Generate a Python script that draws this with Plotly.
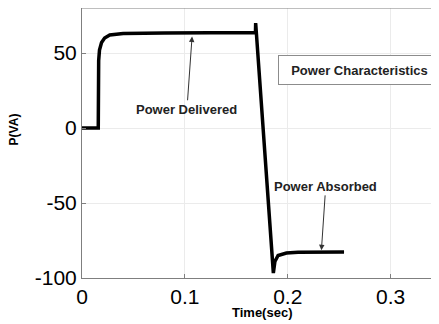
import plotly.graph_objects as go

# Data
time_s = [0.0, 0.0158, 0.0162, 0.017, 0.019, 0.022, 0.027, 0.04, 0.08, 0.12, 0.1686,
          0.1688, 0.186, 0.1875, 0.1906, 0.1987, 0.21, 0.2547]
power_va = [0.0, 0.0, 45.0, 52.0, 57.0, 60.0, 62.0, 63.0, 63.3, 63.5, 63.6,
            70.0, -96.7, -89.0, -85.0, -83.4, -82.8, -82.7]

x_ticks = [0, 0.1, 0.2, 0.3]
x_tick_labels = ["0", "0.1", "0.2", "0.3"]
y_ticks = [-100, -50, 0, 50]
y_tick_labels = ["-100", "-50", "0", "50"]

FONT = "Liberation Sans, Arial, sans-serif"
AXIS_GRAY = "#7f7f7f"

fig = go.Figure()

fig.add_trace(go.Scatter(
    x=time_s,
    y=power_va,
    mode="lines",
    line=dict(color="black", width=3.5),
    showlegend=False,
))

annotations = [
    # arrow labels
    dict(x=0.107, y=61, xref="x", yref="y",
         ax=0.102, ay=12.5, axref="x", ayref="y",
         text="Power Delivered", showarrow=True,
         arrowhead=2, arrowsize=1.1, arrowwidth=1, arrowcolor="#333333",
         font=dict(family=FONT, size=13, color="#222222", weight="bold")),
    dict(x=0.2327, y=-81.5, xref="x", yref="y",
         ax=0.2369, ay=-38.9, axref="x", ayref="y",
         text="Power Absorbed", showarrow=True,
         arrowhead=2, arrowsize=1.1, arrowwidth=1, arrowcolor="#333333",
         font=dict(family=FONT, size=13, color="#222222", weight="bold")),
    # boxed title
    dict(x=0.2697, y=38.5, xref="x", yref="y",
         text="Power Characteristics", showarrow=False,
         width=155, height=22, borderpad=3,
         bordercolor="#8c8c8c", borderwidth=1, bgcolor="white",
         font=dict(family=FONT, size=13, color="#222222", weight="bold")),
    # axis titles
    dict(x=-0.188, y=0.55, xref="paper", yref="paper",
         text="P(VA)", textangle=-90, showarrow=False,
         xanchor="center", yanchor="middle",
         font=dict(family=FONT, size=12, color="black", weight="bold")),
    dict(x=0.504, y=-0.126, xref="paper", yref="paper",
         text="Time(sec)", showarrow=False,
         xanchor="center", yanchor="middle",
         font=dict(family=FONT, size=13, color="black", weight="bold")),
]

# page body has an 8px margin, so the figure is shifted by 8px
fig.update_layout(
    width=431,
    height=316,
    margin=dict(l=74, r=0, t=0, b=46),
    paper_bgcolor="white",
    plot_bgcolor="white",
    font=dict(family=FONT, size=21, color="black"),
    annotations=annotations,
    shapes=[dict(type="line", xref="paper", yref="paper",
                 x0=0, x1=1, y0=1, y1=1,
                 line=dict(color=AXIS_GRAY, width=1))],
)

fig.update_xaxes(
    range=[0, 0.347],
    tickvals=x_ticks,
    ticktext=x_tick_labels,
    showgrid=True, gridcolor="#ebebeb", gridwidth=1,
    showline=True, linecolor=AXIS_GRAY, linewidth=1,
    ticks="inside", ticklen=4, tickcolor=AXIS_GRAY,
    zeroline=False,
)
fig.update_yaxes(
    range=[-100, 80],
    tickvals=y_ticks,
    ticktext=y_tick_labels,
    showgrid=True, gridcolor="#ebebeb", gridwidth=1,
    showline=True, linecolor=AXIS_GRAY, linewidth=1,
    ticks="inside", ticklen=4, tickcolor=AXIS_GRAY,
    zeroline=False,
)

fig.write_html("out.html")
